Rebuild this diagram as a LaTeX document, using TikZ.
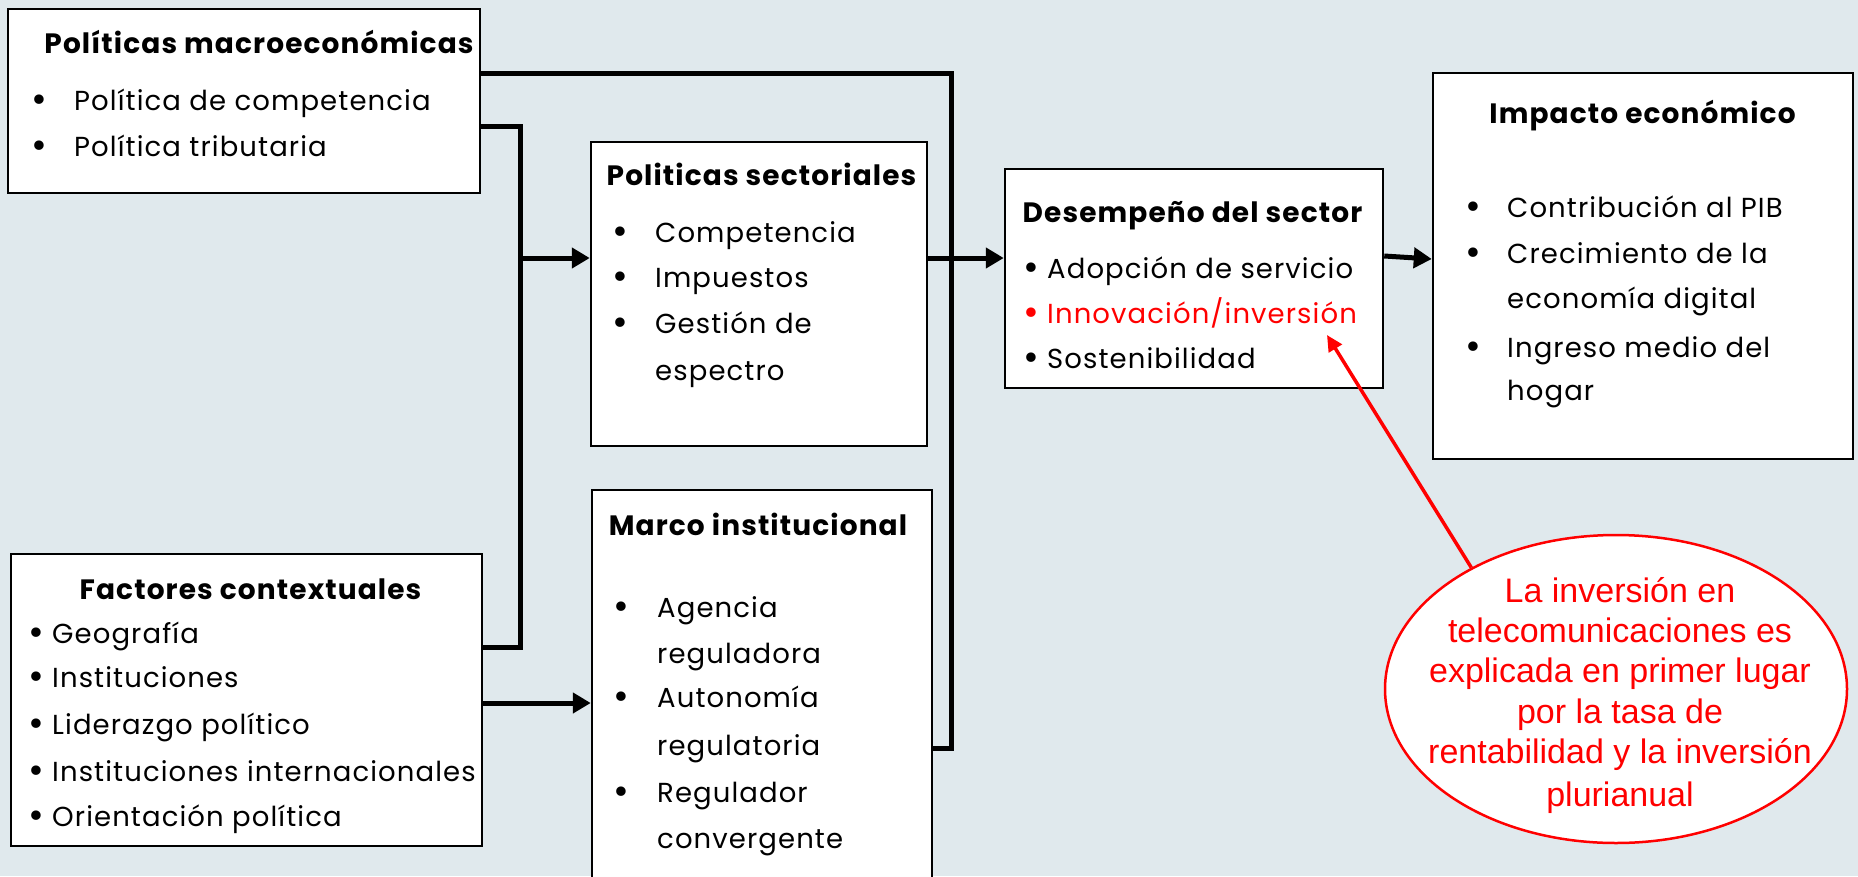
\documentclass[tikz,border=0pt]{standalone}
\usepackage{fontspec}
\setmainfont{Poppins}[LetterSpace=4]
\newfontfamily\arialf{Liberation Sans}
\usetikzlibrary{arrows.meta,shapes.geometric}
\definecolor{bgc}{RGB}{224,233,237}
\definecolor{redc}{RGB}{255,0,0}
\newcommand\bul[1]{\makebox[#1][l]{\raisebox{-0.08em}{\scalebox{1.4}{\textbullet}}}}
\tikzset{
  box/.style={draw=black, line width=2.5pt, fill=white, rectangle, inner sep=0pt},
  conn/.style={line width=5pt, line join=miter},
  arr/.style={conn, -{Triangle[length=18pt,width=20pt]}},
  redarr/.style={draw=redc, line width=3.5pt, -{Triangle[length=16pt,width=15pt]}},
  ttl/.style={font=\bfseries\fontsize{28}{32}\selectfont, inner sep=0pt, anchor=base},
  itm/.style={font=\fontsize{27.5}{32}\selectfont, inner sep=0pt, anchor=base west},
  elltxt/.style={font=\arialf\fontsize{34}{40}\selectfont, text=redc, inner sep=0pt, anchor=base},
}
\begin{document}
\begin{tikzpicture}[x=1pt,y=-1pt]
\useasboundingbox (0,0) rectangle (1858,876);
\clip (0,0) rectangle (1858,876);
\fill[bgc] (0,0) rectangle (1858,876);

% boxes
\node[box, minimum width=472pt, minimum height=184pt] (A) at (244,101) {};
\node[box, minimum width=336pt, minimum height=304pt] (B) at (759,294) {};
\node[box, minimum width=378pt, minimum height=219pt] (C) at (1194,278.5) {};
\node[box, minimum width=420pt, minimum height=386pt] (D) at (1643,266) {};
\node[box, minimum width=471pt, minimum height=292pt] (E) at (246.5,700) {};
\node[box, minimum width=340pt, minimum height=410pt] (F) at (762,695) {};
\node[ellipse, draw=redc, line width=2.5pt, fill=white, inner sep=0pt,
      minimum width=462pt, minimum height=308pt] (ell) at (1616,689) {};

% connectors
\coordinate (j1) at (951,73);
\coordinate (j2) at (951,748);
\coordinate (k1) at (520,126);
\coordinate (k2) at (520,647);
\coordinate (k3) at (520,258);
\coordinate (n1) at (1383,256);
\coordinate (n2) at (1433,259);
\coordinate (p1) at (0,703);
\coordinate (rt) at (1327,335);
\draw[conn] (A.east |- j1) -- (j1) -- (j2) -- (F.east |- j2);
\draw[conn] (A.east |- k1) -- (k1) -- (k2) -- (E.east |- k2);
\draw[arr] (k3) -- (B.west |- k3);
\draw[arr] (B.east |- k3) -- (C.west |- k3);
\draw[arr] (C.east |- n1) -- (D.west |- n2);
\draw[arr] (E.east |- p1) -- (F.west |- p1);
\draw[redarr] (ell.140.8) -- (rt);

% box A
\node[ttl] (At) at (259,53) {Políticas macroeconómicas};
\node[itm] (A1) at (31,110) {\bul{43pt}Política de competencia};
\node[itm] (A2) at (31,156) {\bul{43pt}Política tributaria};

% box B
\node[ttl] (Bt) at (761.5,185) {Politicas sectoriales};
\node[itm] (B1) at (612,242) {\bul{43pt}Competencia};
\node[itm] (B2) at (612,287) {\bul{43pt}Impuestos};
\node[itm] (B3) at (612,333) {\bul{43pt}Gestión de};
\node[itm] (B4) at (655,380) {espectro};

% box C
\node[ttl] (Ct) at (1192.5,222) {Desempeño del sector};
\node[itm] (C1) at (1023,278) {\bul{24pt}Adopción de servicio};
\node[itm, text=redc] (C2) at (1023,323) {\bul{24pt}Innovación/inversión};
\node[itm] (C3) at (1023,368) {\bul{24pt}Sostenibilidad};

% box D
\node[ttl] (Dt) at (1642.5,123) {Impacto económico};
\node[itm] (D1) at (1465,217) {\bul{42pt}Contribución al PIB};
\node[itm] (D2) at (1465,263) {\bul{42pt}Crecimiento de la};
\node[itm] (D3) at (1507,308) {economía digital};
\node[itm] (D4) at (1465,357) {\bul{42pt}Ingreso medio del};
\node[itm] (D5) at (1507,400) {hogar};

% box E
\node[ttl] (Et) at (250.5,599) {Factores contextuales};
\node[itm] (E1) at (28,643) {\bul{24pt}Geografía};
\node[itm] (E2) at (28,687) {\bul{24pt}Instituciones};
\node[itm] (E3) at (28,734) {\bul{24pt}Liderazgo político};
\node[itm] (E4) at (28,781) {\bul{24pt}Instituciones internacionales};
\node[itm] (E5) at (28,826) {\bul{24pt}Orientación política};

% box F
\node[ttl] (Ft) at (758,535) {Marco institucional};
\node[itm] (F1) at (613,617) {\bul{44pt}Agencia};
\node[itm] (F2) at (657,663) {reguladora};
\node[itm] (F3) at (613,707) {\bul{44pt}Autonomía};
\node[itm] (F4) at (657,755) {regulatoria};
\node[itm] (F5) at (613,802) {\bul{44pt}Regulador};
\node[itm] (F6) at (657,848) {convergente};

% ellipse text
\node[elltxt] (L1) at (1620,602) {La inversión en};
\node[elltxt] (L2) at (1620,642) {telecomunicaciones es};
\node[elltxt] (L3) at (1620,682) {explicada en primer lugar};
\node[elltxt] (L4) at (1620,723) {por la tasa de};
\node[elltxt] (L5) at (1620,763) {rentabilidad y la inversión};
\node[elltxt] (L6) at (1620,806) {plurianual};
\end{tikzpicture}
\end{document}
